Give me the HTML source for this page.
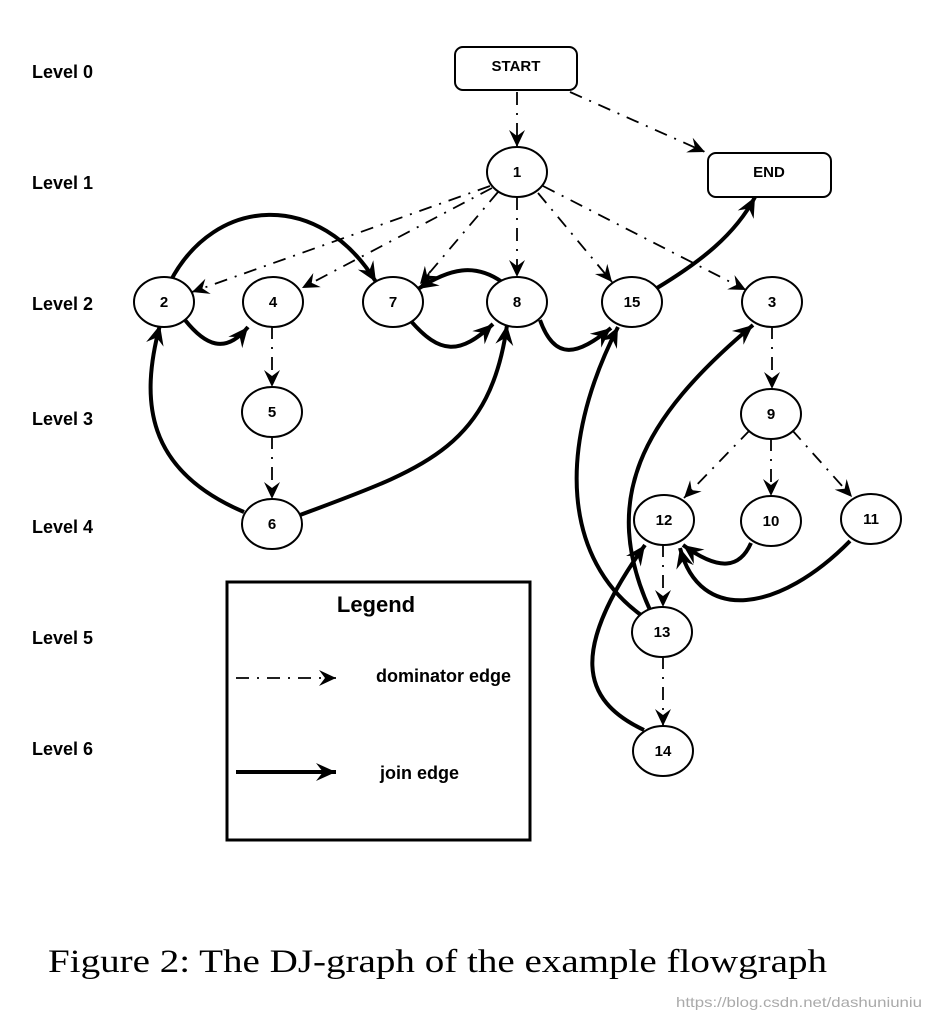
<!DOCTYPE html>
<html><head><meta charset="utf-8"><style>
html,body{margin:0;padding:0;background:#fff}
svg{display:block}
.l{font-family:"Liberation Sans",sans-serif;font-weight:bold;font-size:18px}
.n{font-family:"Liberation Sans",sans-serif;font-weight:bold;font-size:15px;text-anchor:middle}
.j{fill:none;stroke:#000;stroke-width:4;marker-end:url(#a)}
.d{fill:none;stroke:#000;stroke-width:1.8;stroke-dasharray:13,8,2,8;marker-end:url(#b)}
ellipse,rect.nd{fill:#fff;stroke:#000;stroke-width:2}
</style></head><body>
<svg width="930" height="1022" viewBox="0 0 930 1022" xmlns="http://www.w3.org/2000/svg">
<defs>
<marker id="a" markerUnits="userSpaceOnUse" viewBox="-20 -10 22 20" refX="0" refY="0" markerWidth="22" markerHeight="20" orient="auto"><path d="M0,0 L-20,-9 L-13,0 L-20,9 Z" fill="#000"/></marker>
<marker id="b" markerUnits="userSpaceOnUse" viewBox="-18 -9 20 18" refX="0" refY="0" markerWidth="20" markerHeight="18" orient="auto"><path d="M0,0 L-17,-8 L-11,0 L-17,8 Z" fill="#000"/></marker>
</defs>
<g class="l">
<text x="32" y="78">Level  0</text><text x="32" y="189">Level  1</text>
<text x="32" y="310">Level  2</text><text x="32" y="425">Level  3</text>
<text x="32" y="533">Level  4</text><text x="32" y="644">Level  5</text>
<text x="32" y="755">Level  6</text>
</g>
<path class="d" d="M517,92 L517,147"/>
<path class="d" d="M570,92 L705,152"/>
<path class="d" d="M490,186 L192,292"/>
<path class="d" d="M492,188 L302,288"/>
<path class="d" d="M498,192 L420,284"/>
<path class="d" d="M517,197 L517,277"/>
<path class="d" d="M538,193 L612,282"/>
<path class="d" d="M543,186 L746,290"/>
<path class="d" d="M272,326 L272,387"/>
<path class="d" d="M272,436 L272,499"/>
<path class="d" d="M772,326 L772,389"/>
<path class="d" d="M750,430 L684,498"/>
<path class="d" d="M771,438 L771,496"/>
<path class="d" d="M792,430 L852,497"/>
<path class="d" d="M663,544 L663,607"/>
<path class="d" d="M663,656 L663,726"/>
<path class="j" d="M170,282 C215,195 320,190 376,282"/>
<path class="j" d="M185,320 C205,345 225,355 248,327"/>
<path class="j" d="M410,320 C440,355 460,355 493,324"/>
<path class="j" d="M502,282 C475,263 450,268 418,289"/>
<path class="j" d="M540,320 C555,362 578,355 611,328"/>
<path class="j" d="M657,288 C700,262 735,235 755,197"/>
<path class="j" d="M244,512 C145,470 140,400 160,325"/>
<path class="j" d="M300,515 C420,470 490,450 507,325"/>
<path class="j" d="M641,615 C565,560 555,450 618,327"/>
<path class="j" d="M650,610 C600,500 640,420 753,325"/>
<path class="j" d="M644,730 C580,700 570,650 645,545"/>
<path class="j" d="M751,543 C740,568 720,572 683,545"/>
<path class="j" d="M850,541 C780,612 700,625 680,548"/>
<rect class="nd" x="455" y="47" width="122" height="43" rx="8"/>
<text class="n" x="516" y="71">START</text>
<rect class="nd" x="708" y="153" width="123" height="44" rx="8"/>
<text class="n" x="769" y="177">END</text>
<g>
<ellipse cx="517" cy="172" rx="30" ry="25"/><text class="n" x="517" y="177">1</text>
<ellipse cx="164" cy="302" rx="30" ry="25"/><text class="n" x="164" y="307">2</text>
<ellipse cx="273" cy="302" rx="30" ry="25"/><text class="n" x="273" y="307">4</text>
<ellipse cx="393" cy="302" rx="30" ry="25"/><text class="n" x="393" y="307">7</text>
<ellipse cx="517" cy="302" rx="30" ry="25"/><text class="n" x="517" y="307">8</text>
<ellipse cx="632" cy="302" rx="30" ry="25"/><text class="n" x="632" y="307">15</text>
<ellipse cx="772" cy="302" rx="30" ry="25"/><text class="n" x="772" y="307">3</text>
<ellipse cx="272" cy="412" rx="30" ry="25"/><text class="n" x="272" y="417">5</text>
<ellipse cx="771" cy="414" rx="30" ry="25"/><text class="n" x="771" y="419">9</text>
<ellipse cx="272" cy="524" rx="30" ry="25"/><text class="n" x="272" y="529">6</text>
<ellipse cx="664" cy="520" rx="30" ry="25"/><text class="n" x="664" y="525">12</text>
<ellipse cx="771" cy="521" rx="30" ry="25"/><text class="n" x="771" y="526">10</text>
<ellipse cx="871" cy="519" rx="30" ry="25"/><text class="n" x="871" y="524">11</text>
<ellipse cx="662" cy="632" rx="30" ry="25"/><text class="n" x="662" y="637">13</text>
<ellipse cx="663" cy="751" rx="30" ry="25"/><text class="n" x="663" y="756">14</text>
</g>
<rect x="227" y="582" width="303" height="258" fill="none" stroke="#000" stroke-width="3"/>
<text x="376" y="612" font-family="Liberation Sans,sans-serif" font-weight="bold" font-size="22" text-anchor="middle">Legend</text>
<path class="d" d="M236,678 L336,678"/>
<path class="j" d="M236,772 L336,772"/>
<text class="l" x="376" y="682">dominator edge</text>
<text class="l" x="380" y="779">join edge</text>
<text x="48" y="972" font-family="Liberation Serif,serif" font-size="33" textLength="779" lengthAdjust="spacingAndGlyphs">Figure 2:  The DJ-graph of the example flowgraph</text>
<text x="676" y="1007" font-family="Liberation Sans,sans-serif" font-size="14" fill="#aaa" textLength="246" lengthAdjust="spacingAndGlyphs">https://blog.csdn.net/dashuniuniu</text>
</svg>
</body></html>
